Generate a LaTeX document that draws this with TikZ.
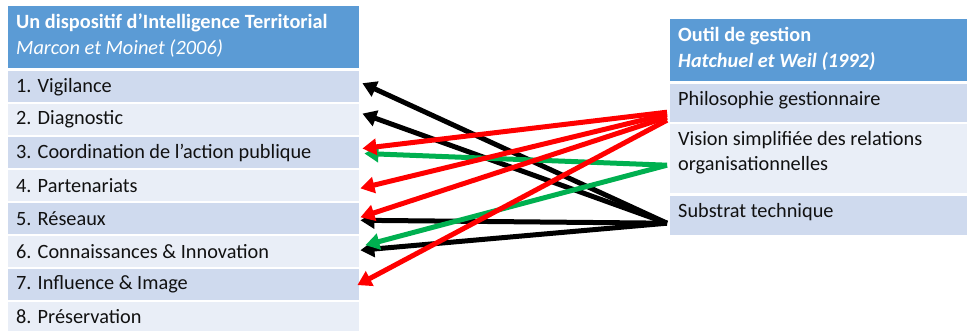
\documentclass[tikz,border=0pt]{standalone}
\usepackage{fontspec}
\setmainfont{Carlito}
\usetikzlibrary{arrows.meta,calc}
\definecolor{hdr}{HTML}{5B9BD5}
\definecolor{rowA}{HTML}{CFDAEE}
\definecolor{rowB}{HTML}{E9EEF7}
\definecolor{arRed}{HTML}{FF0000}
\definecolor{arGreen}{HTML}{00B050}
\definecolor{txtc}{HTML}{111111}
\begin{document}
\begin{tikzpicture}[x=1pt,y=-1pt,
  cell/.style={rectangle, inner sep=0pt, anchor=north west},
  lrow/.style={cell, minimum width=351pt, minimum height=31pt},
  txt/.style={anchor=west, inner sep=0pt, align=left, text=txtc, font=\fontsize{20.3}{25.5}\selectfont},
  htxt/.style={txt, text=white},
  link/.style={line width=5pt, -{Triangle[length=14pt,width=16pt]}},
]
\useasboundingbox (0,0) rectangle (967,331);
\fill[white] (0,0) rectangle (967,331);

% left table
\node[cell, fill=hdr, minimum width=351pt, minimum height=62pt] (lh) at (8,6) {};
\node[htxt] (lht) at ($(lh.west)+(8,-1.5)$) {\textbf{Un dispositif d’Intelligence Territorial}\\\textit{Marcon et Moinet (2006)}};

\node[lrow, fill=rowA] (l1) at (8,71.0) {};
\node[lrow, fill=rowB] (l2) at (8,103.9) {};
\node[lrow, fill=rowA] (l3) at (8,136.8) {};
\node[lrow, fill=rowB] (l4) at (8,169.7) {};
\node[lrow, fill=rowA] (l5) at (8,202.6) {};
\node[lrow, fill=rowB] (l6) at (8,235.5) {};
\node[lrow, fill=rowA] (l7) at (8,268.4) {};
\node[lrow, fill=rowB] (l8) at (8,301.3) {};

\node[txt] (t1) at ($(l1.west)+(8,0)$) {1. Vigilance};
\node[txt] (t2) at ($(l2.west)+(8,0)$) {2. Diagnostic};
\node[txt] (t3) at ($(l3.west)+(8,0)$) {3. Coordination de l’action publique};
\node[txt] (t4) at ($(l4.west)+(8,0)$) {4. Partenariats};
\node[txt] (t5) at ($(l5.west)+(8,0)$) {5. Réseaux};
\node[txt] (t6) at ($(l6.west)+(8,0)$) {6. Connaissances \& Innovation};
\node[txt] (t7) at ($(l7.west)+(8,0)$) {7. Influence \& Image};
\node[txt] (t8) at ($(l8.west)+(8,0)$) {8. Préservation};

% right table
\node[cell, fill=hdr, minimum width=297pt, minimum height=62pt] (rh) at (670,19) {};
\node[htxt] (rht) at ($(rh.west)+(8,-1.5)$) {\textbf{Outil de gestion}\\\textbf{\textit{Hatchuel et Weil (1992)}}};
\node[cell, fill=rowA, minimum width=297pt, minimum height=38pt] (rP) at (670,84) {};
\node[cell, fill=rowB, minimum width=297pt, minimum height=69pt] (rV) at (670,124) {};
\node[cell, fill=rowA, minimum width=297pt, minimum height=39pt] (rS) at (670,196) {};
\node[txt] (tP) at ($(rP.north west)+(8,16)$) {Philosophie gestionnaire};
\node[txt] (tV) at ($(rV.north west)+(8,28.5)$) {Vision simplifiée des relations\\organisationnelles};
\node[txt] (tS) at ($(rS.north west)+(8,16)$) {Substrat technique};

% black links from Substrat technique
\draw[link, black] ($(rS.west)+(-3,7.5)$) -- ($(l1.east)+(3,-3.5)$);
\draw[link, black] ($(rS.west)+(-3,7.5)$) -- ($(l2.east)+(3,-6)$);
\draw[link, black] ($(rS.west)+(-3,7.5)$) -- ($(l5.east)+(1,2)$);
\draw[link, black] ($(rS.west)+(-3,7.5)$) -- ($(l6.east)+(1,-1)$);
% green links from Vision
\draw[link, arGreen] ($(rV.west)+(-3,6.5)$) -- ($(l3.east)+(5,1)$);
\draw[link, arGreen] ($(rV.west)+(-3,6.5)$) -- ($(l6.east)+(6,-6)$);
% red links from Philosophie
\draw[link, arRed] ($(rP.west)+(-3,9)$) -- ($(l3.east)+(3,-4)$);
\draw[link, arRed] ($(rP.west)+(-3,11)$) -- ($(l4.east)+(1,3)$);
\draw[link, arRed] ($(rP.west)+(-3,14)$) -- ($(l5.east)+(1,-1)$);
\draw[link, arRed] ($(rP.west)+(-3,17)$) -- ($(l7.east)+(-2,1)$);
\end{tikzpicture}
\end{document}
